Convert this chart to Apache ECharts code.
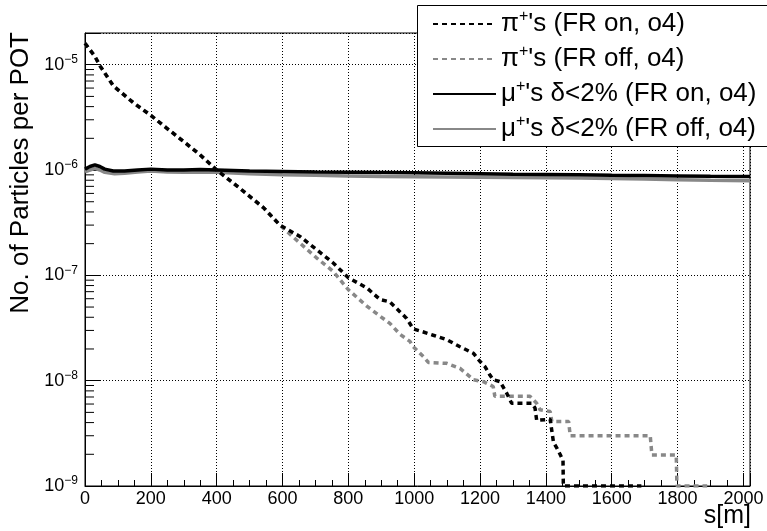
<!DOCTYPE html>
<html><head><meta charset="utf-8">
<script src="https://cdn.jsdelivr.net/npm/echarts@6/dist/echarts.min.js"></script>
<style>html,body{margin:0;padding:0;background:#fff}#c{width:767px;height:531px}</style>
</head><body><div id="c"></div>
<script>
// ---- data (s [m], particles per POT) ----
const piOn = [[0,1.6e-5],[10,1.45e-5],[30,1.2e-5],[46,9.7e-6],[86,6.3e-6],[147,4.35e-6],[197,3.36e-6],[248,2.5e-6],[299,1.87e-6],[349,1.4e-6],[400,1.0e-6],[451,7.5e-7],[501,5.6e-7],[542,4.4e-7],[592,3.0e-7],[653,2.34e-7],[704,1.75e-7],[754,1.31e-7],[800,9.5e-8],[856,7.6e-8],[896,5.9e-8],[926,5.6e-8],[957,4.5e-8],[977,3.9e-8],[997,3.1e-8],[1028,2.9e-8],[1058,2.7e-8],[1099,2.45e-8],[1139,2.1e-8],[1180,1.82e-8],[1185,1.82e-8],[1200,1.52e-8],[1215,1.36e-8],[1230,1.13e-8],[1240,1.02e-8],[1261,9.8e-9],[1281,7.6e-9],[1296,6.1e-9],[1357,6.1e-9],[1367,5.5e-9],[1372,4.2e-9],[1413,4.3e-9],[1423,2.6e-9],[1433,2.3e-9],[1443,2.0e-9],[1452,1.75e-9],[1453,1e-9],[1690,1e-9]];
const piOff = [[0,1.6e-5],[10,1.45e-5],[30,1.2e-5],[46,9.7e-6],[86,6.3e-6],[147,4.35e-6],[197,3.36e-6],[248,2.5e-6],[299,1.87e-6],[349,1.4e-6],[400,1.0e-6],[451,7.5e-7],[501,5.6e-7],[542,4.4e-7],[592,3.0e-7],[633,2.3e-7],[704,1.46e-7],[754,1.09e-7],[800,7.3e-8],[856,5.1e-8],[896,4.1e-8],[926,3.5e-8],[957,2.75e-8],[987,2.36e-8],[997,2.1e-8],[1028,1.69e-8],[1043,1.49e-8],[1099,1.46e-8],[1139,1.31e-8],[1180,1.02e-8],[1210,9.8e-9],[1240,8.8e-9],[1245,7.1e-9],[1352,7.1e-9],[1372,6.1e-9],[1382,5.3e-9],[1413,5.1e-9],[1418,4.1e-9],[1469,4.1e-9],[1474,3.0e-9],[1717,3.0e-9],[1722,1.97e-9],[1796,1.97e-9],[1798,1e-9],[1890,1e-9]];
const muOn = [[0,1.02e-6],[15,1.08e-6],[30,1.12e-6],[45,1.08e-6],[60,1.02e-6],[86,9.8e-7],[120,9.8e-7],[160,1.0e-6],[200,1.02e-6],[250,1.0e-6],[300,1.0e-6],[350,1.01e-6],[400,1.0e-6],[500,9.8e-7],[600,9.7e-7],[700,9.6e-7],[800,9.55e-7],[900,9.5e-7],[1000,9.4e-7],[1100,9.3e-7],[1200,9.2e-7],[1300,9.1e-7],[1400,9.05e-7],[1500,9.0e-7],[1600,8.9e-7],[1700,8.85e-7],[1800,8.8e-7],[1900,8.75e-7],[2020,8.7e-7]];
const muOff = [[0,9.6e-7],[15,1.0e-6],[30,1.04e-6],[45,1.0e-6],[60,9.5e-7],[90,9.2e-7],[120,9.3e-7],[160,9.6e-7],[200,9.8e-7],[250,9.6e-7],[300,9.5e-7],[350,9.6e-7],[400,9.5e-7],[500,9.2e-7],[600,9.0e-7],[700,8.9e-7],[800,8.8e-7],[900,8.7e-7],[1000,8.65e-7],[1100,8.6e-7],[1200,8.55e-7],[1300,8.5e-7],[1400,8.45e-7],[1500,8.4e-7],[1600,8.3e-7],[1700,8.2e-7],[1800,8.1e-7],[1900,8.0e-7],[2020,7.9e-7]];
const seriesNames = ['piOn','piOff','muOn','muOff'];
const legendLabels = {
  piOn:  "{n|π}{s|+}{n|'s (FR on, o4)}",
  piOff: "{n|π}{s|+}{n|'s (FR off, o4)}",
  muOn:  "{n|μ}{s|+}{n|'s δ<2% (FR on, o4)}",
  muOff: "{n|μ}{s|+}{n|'s δ<2% (FR off, o4)}"
};
const xMin = 0, xMax = 2020, xStep = 200;
const yMin = 1e-9, yMax = 2e-5;
const yTitle = 'No. of Particles per POT';
const xTitle = 's[m]';

const FONT = "'Liberation Sans', Arial, Helvetica, sans-serif";
const minorY = [];
for (let e = -9; e <= -5; e++) for (let m = 2; m <= 9; m++) { const v = m * Math.pow(10, e); if (v < yMax) minorY.push([xMin, v]); }

const chart = echarts.init(document.getElementById('c'), null, {renderer: 'canvas'});
chart.setOption({
  animation: false,
  backgroundColor: '#fff',
  grid: {left: 85, top: 33, right: 17, bottom: 45, show: true, borderColor: '#000', borderWidth: 1, backgroundColor: 'transparent'},
  xAxis: {
    type: 'value', min: xMin, max: xMax, interval: xStep,
    axisLine: {show: true, lineStyle: {color: '#000', width: 1}},
    axisTick: {show: true, inside: true, length: 13, lineStyle: {color: '#000', width: 1}},
    minorTick: {show: true, splitNumber: 4, length: 6, lineStyle: {color: '#000', width: 1}},
    splitLine: {show: true, lineStyle: {color: '#000', width: 1, type: [1, 2]}},
    axisLabel: {show: true, interval: 0, margin: 4, color: '#000', fontSize: 18, fontFamily: FONT,
      formatter: v => (v % xStep === 0 ? String(v) : '')}
  },
  yAxis: {
    type: 'log', logBase: 10, min: yMin, max: yMax,
    axisLine: {show: true, lineStyle: {color: '#000', width: 1}},
    axisTick: {show: true, inside: true, length: 16, lineStyle: {color: '#000', width: 1}},
    splitLine: {show: true, lineStyle: {color: '#000', width: 1, type: [1, 2]}},
    axisLabel: {show: true, interval: 0, margin: 7, color: '#000', fontFamily: FONT,
      formatter: v => { const e = Math.log10(v); const r = Math.round(e); if (Math.abs(e - r) > 1e-6) return ''; return '{b|10}{e|' + (r < 0 ? '\u2212' : '') + Math.abs(r) + '}'; },
      rich: {b: {fontSize: 18, lineHeight: 22, fontFamily: FONT, color: '#000'}, e: {fontSize: 12, lineHeight: 12, verticalAlign: 'top', fontFamily: FONT, color: '#000'}}}
  },
  legend: {
    data: seriesNames, orient: 'vertical', left: 432, top: 9, z: 60,
    itemWidth: 63, itemHeight: 14, itemGap: 7, padding: 0,
    itemStyle: {opacity: 0},
    formatter: name => legendLabels[name],
    textStyle: {color: '#000', fontFamily: FONT, fontSize: 26,
      rich: {n: {fontSize: 26, lineHeight: 30, fontFamily: FONT, color: '#000'}, s: {fontSize: 16, lineHeight: 16, verticalAlign: 'top', fontFamily: FONT, color: '#000'}}},
    selectedMode: false
  },
  graphic: [
    {type: 'rect', z: 50, shape: {x: 417.5, y: 5.5, width: 400, height: 141}, style: {fill: '#fff', stroke: '#000', lineWidth: 1}},
    {type: 'text', z: 50, x: 21, y: 32, rotation: Math.PI / 2, style: {text: yTitle, fontSize: 26, fontFamily: FONT, fill: '#000', align: 'right', verticalAlign: 'middle'}},
    {type: 'text', z: 50, x: 751, y: 529, style: {text: xTitle, fontSize: 25, fontFamily: FONT, fill: '#000', align: 'right', verticalAlign: 'bottom'}}
  ],
  series: [
    {name: 'piOff', type: 'line', data: piOff, symbol: 'none', z: 3, lineStyle: {color: '#888', width: 3.5, type: [5, 4], cap: 'butt'}, itemStyle: {color: '#888'}},
    {name: 'piOn', type: 'line', data: piOn, symbol: 'none', z: 4, lineStyle: {color: '#000', width: 3.5, type: [5, 4], cap: 'butt'}, itemStyle: {color: '#000'}},
    {name: 'muOff', type: 'line', data: muOff, symbol: 'none', z: 3, lineStyle: {color: '#888', width: 3.5, type: 'solid'}, itemStyle: {color: '#888'}},
    {name: 'muOn', type: 'line', data: muOn, symbol: 'none', z: 4, lineStyle: {color: '#000', width: 3.5, type: 'solid'}, itemStyle: {color: '#000'}},
    {name: 'minorTicks', type: 'custom', silent: true, z: 5, clip: false, data: minorY, encode: {x: 0, y: 1},
      renderItem: (params, api) => { const p = api.coord([xMin, api.value(1)]); return {type: 'line', shape: {x1: p[0], y1: p[1], x2: p[0] + 9, y2: p[1]}, style: {stroke: '#000', lineWidth: 1}}; }}
  ]
});
</script></body></html>
